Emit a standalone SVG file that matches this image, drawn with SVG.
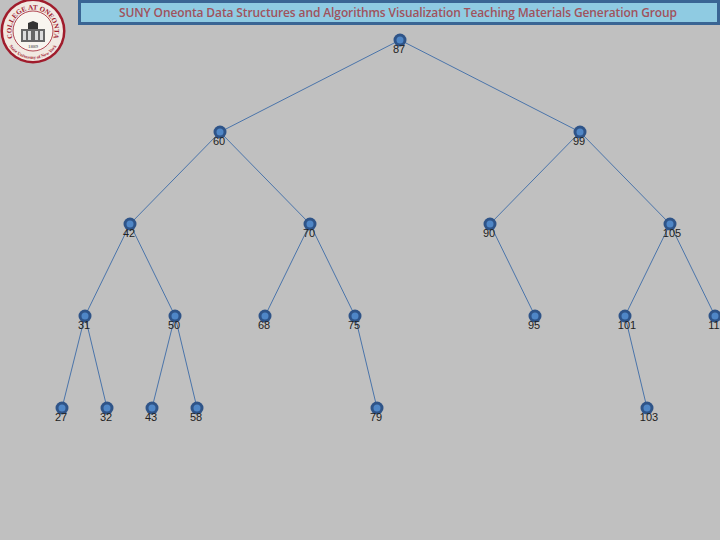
<svg xmlns="http://www.w3.org/2000/svg" width="720" height="540" viewBox="0 0 720 540">
<style>
.e{stroke:#4a74aa;stroke-width:1;fill:none}
.o{fill:#2f5488}
.i{fill:#4f86c6}
.l{font-family:"Liberation Sans",Arial,sans-serif;font-size:11px;fill:#222;text-anchor:middle}
.t{font-family:"Open Sans","DejaVu Sans",sans-serif;font-size:12px;font-weight:600;fill:#a0525c;text-anchor:middle}
.s{font-family:"Liberation Serif",serif;fill:#a02030;font-weight:bold}
</style>
<defs>
<g id="n"><circle class="o" r="6.5"/><circle class="i" r="3.5"/></g>
<path id="arcTop" d="M12.800 38.400A21.500 21.500 0 1 1 53.200 38.400"/>
<path id="arcBot" d="M7.600 42.800A28 28 0 0 0 58.400 42.800"/>
</defs>
<rect width="720" height="540" fill="#c0c0c0"/>
<g id="seal">
<circle cx="33" cy="31" r="32.500" fill="#a01c2c"/>
<circle cx="33" cy="31" r="30" fill="#f1e9e2"/>
<circle cx="33" cy="31" r="20" fill="#f8f5ef" stroke="#a01c2c" stroke-width="0.800"/>
<text class="s" font-size="7"><textPath href="#arcTop" startOffset="50%" text-anchor="middle">COLLEGE AT ONEONTA</textPath></text>
<text class="s" font-size="4.500"><textPath href="#arcBot" startOffset="50%" text-anchor="middle">State University of New York</textPath></text>
<path d="M21 29h24v13h-24z" fill="#666"/>
<path d="M23 31h3v9h-3zM28 31h3v9h-3zM35 31h3v9h-3zM40 31h3v9h-3z" fill="#ddd"/>
<path d="M28 29v-6l5-2 5 2v6z" fill="#333"/>
<text x="33" y="48" font-family="Liberation Serif,serif" font-size="5" text-anchor="middle" fill="#333">1889</text>
</g>
<g id="header">
<rect x="79.500" y="1.500" width="639" height="22" fill="#8fcbe2" stroke="#3a6594" stroke-width="3"/>
<text class="t" x="398" y="17" textLength="558" lengthAdjust="spacing">SUNY Oneonta Data Structures and Algorithms Visualization Teaching Materials Generation Group</text>
</g>
<g id="connectors">
<path class="e" d="M400 40L220 132M400 40L580 132M220 132L130 224M220 132L310 224M580 132L490 224M580 132L670 224M130 224L85 316M130 224L175 316M310 224L265 316M310 224L355 316M490 224L535 316M670 224L625 316M670 224L715 316M85 316L62 408M85 316L107 408M175 316L152 408M175 316L197 408M355 316L377 408M625 316L647 408"/>
</g>
<g id="n87"><use href="#n" x="400" y="40"/><text class="l" x="399" y="53">87</text></g>
<g id="n60"><use href="#n" x="220" y="132"/><text class="l" x="219" y="145">60</text></g>
<g id="n99"><use href="#n" x="580" y="132"/><text class="l" x="579" y="145">99</text></g>
<g id="n42"><use href="#n" x="130" y="224"/><text class="l" x="129" y="237">42</text></g>
<g id="n70"><use href="#n" x="310" y="224"/><text class="l" x="309" y="237">70</text></g>
<g id="n90"><use href="#n" x="490" y="224"/><text class="l" x="489" y="237">90</text></g>
<g id="n105"><use href="#n" x="670" y="224"/><text class="l" x="672" y="237">105</text></g>
<g id="n31"><use href="#n" x="85" y="316"/><text class="l" x="84" y="329">31</text></g>
<g id="n50"><use href="#n" x="175" y="316"/><text class="l" x="174" y="329">50</text></g>
<g id="n68"><use href="#n" x="265" y="316"/><text class="l" x="264" y="329">68</text></g>
<g id="n75"><use href="#n" x="355" y="316"/><text class="l" x="354" y="329">75</text></g>
<g id="n95"><use href="#n" x="535" y="316"/><text class="l" x="534" y="329">95</text></g>
<g id="n101"><use href="#n" x="625" y="316"/><text class="l" x="627" y="329">101</text></g>
<g id="n11"><use href="#n" x="715" y="316"/><text class="l" x="714" y="329">11</text></g>
<g id="n27"><use href="#n" x="62" y="408"/><text class="l" x="61" y="421">27</text></g>
<g id="n32"><use href="#n" x="107" y="408"/><text class="l" x="106" y="421">32</text></g>
<g id="n43"><use href="#n" x="152" y="408"/><text class="l" x="151" y="421">43</text></g>
<g id="n58"><use href="#n" x="197" y="408"/><text class="l" x="196" y="421">58</text></g>
<g id="n79"><use href="#n" x="377" y="408"/><text class="l" x="376" y="421">79</text></g>
<g id="n103"><use href="#n" x="647" y="408"/><text class="l" x="649" y="421">103</text></g>
</svg>
